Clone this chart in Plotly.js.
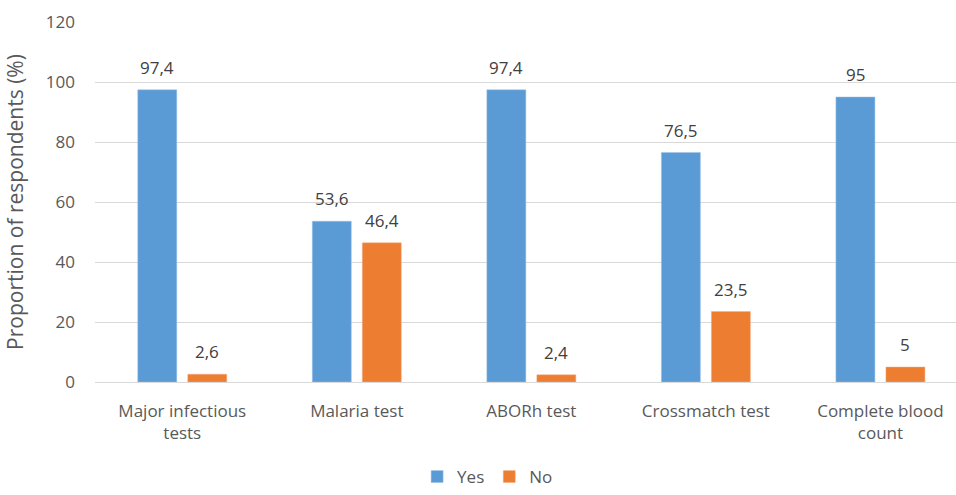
<!DOCTYPE html>
<html>
<head>
<meta charset="utf-8">
<script src="https://cdn.plot.ly/plotly-3.0.1.min.js"></script>
<style>html,body{margin:0;padding:0;background:#fff;}#chart{width:956px;height:495px;}</style>
</head>
<body>
<div id="chart"></div>
<script>
const categories = ["Major infectious<br>tests", "Malaria test", "ABORh test", "Crossmatch test", "Complete blood<br>count"];
const yesValues = [97.4, 53.6, 97.4, 76.5, 95];
const noValues = [2.6, 46.4, 2.4, 23.5, 5];
const yesLabels = ["97,4", "53,6", "97,4", "76,5", "95"];
const noLabels = ["2,6", "46,4", "2,4", "23,5", "5"];
const yTicks = [0, 20, 40, 60, 80, 100, 120];

const font = "'Open Sans', sans-serif";
const traces = [
  {type: "bar", name: "Yes", x: categories, y: yesValues,
   marker: {color: "#5B9BD5", line: {color: "#9CC3E6", width: 0.5}}},
  {type: "bar", name: "No", x: categories, y: noValues,
   marker: {color: "#ED7D31", line: {color: "#F4B183", width: 0.5}}}
];
const annotations = [];
function addLabels(vals, labels, shift) {
  vals.forEach((v, i) => annotations.push({
    x: categories[i], y: v, xref: "x", yref: "y", text: labels[i], showarrow: false,
    xanchor: "center", yanchor: "bottom", xshift: shift, yshift: 9,
    font: {family: font, size: 17, color: "#404040"}
  }));
}
addLabels(yesValues, yesLabels, -25);
addLabels(noValues, noLabels, 25);

const layout = {
  width: 956, height: 495,
  margin: {l: 95, r: 0, t: 22, b: 113},
  paper_bgcolor: "#fff", plot_bgcolor: "#fff",
  barmode: "group", bargap: 0.427, bargroupgap: 0.22,
  font: {family: font, size: 17, color: "#595959"},
  showlegend: true,
  annotations: annotations,
  legend: {orientation: "h", x: 0.456, xanchor: "center", yref: "container", y: 0, yanchor: "bottom",
           font: {family: font, size: 17, color: "#595959"}, itemwidth: 30, traceorder: "normal"},
  xaxis: {type: "category", range: [-0.5, 4.433], showgrid: false, showline: false, zeroline: false,
          ticks: "", ticklabelstandoff: 17, tickfont: {family: font, size: 17, color: "#595959"}, automargin: false},
  yaxis: {range: [0, 120], tickvals: yTicks, ticktext: yTicks.map(String), showgrid: true,
          gridcolor: "#D9D9D9", gridwidth: 1, zeroline: true, zerolinecolor: "#D9D9D9", zerolinewidth: 1,
          showline: false, ticks: "", ticklabelstandoff: 19, automargin: false,
          tickfont: {family: font, size: 17, color: "#595959"},
          title: {text: "Proportion of respondents (%)", font: {family: font, size: 21, color: "#595959"}, standoff: 16}}
};
Plotly.newPlot("chart", traces, layout, {displayModeBar: false, responsive: false});
</script>
</body>
</html>
